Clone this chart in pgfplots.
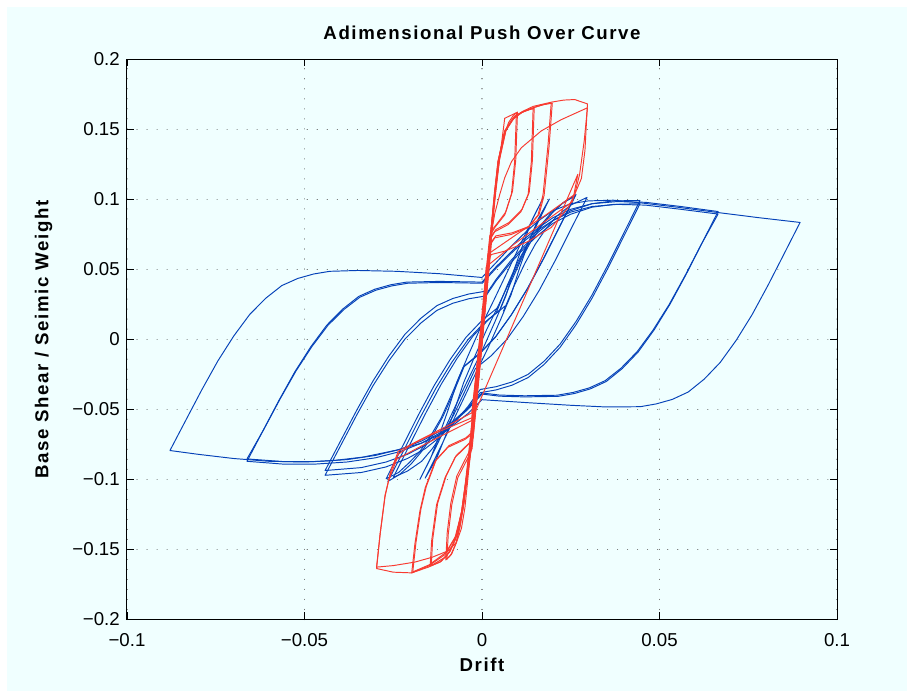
\documentclass[border=0pt]{standalone}
\usepackage{fontspec}
\setmainfont{Liberation Sans}
\newfontfamily\lblfont[LetterSpace=8.5]{Liberation Sans}
\usepackage{pgfplots}
\pgfplotsset{compat=1.18}
\definecolor{bg}{RGB}{240,255,255}
\definecolor{mblue}{RGB}{5,66,184}
\definecolor{mred}{RGB}{248,58,48}
\definecolor{gridc}{RGB}{100,100,100}

\begin{document}
\begin{tikzpicture}
\useasboundingbox (-95.25pt,-53.625pt) rectangle (590.25pt,464.625pt);
\fill[white] (-95.25pt,-53.625pt) rectangle (590.25pt,464.625pt);
\fill[bg] (-90pt,-53.625pt) rectangle (585pt,459.375pt);
\begin{axis}[
  at={(0pt,0pt)}, anchor=south west,
  scale only axis, width=532.5pt, height=420pt,
  xmin=-0.1, xmax=0.1, ymin=-0.2, ymax=0.2,
  xtick={-0.1,-0.05,0,0.05,0.1},
  xticklabels={−0.1,−0.05,0,0.05,0.1},
  ytick={-0.2,-0.15,-0.1,-0.05,0,0.05,0.1,0.15,0.2},
  yticklabels={−0.2,−0.15,−0.1,−0.05,0,0.05,0.1,0.15,0.2},
  tick align=inside, tick pos=both,
  major tick length=5.25pt,
  every tick/.style={black, line width=0.6pt},
  axis line style={black, line width=0.75pt},
  grid=major,
  grid style={gridc, line width=0.8pt, dash pattern=on 0.01pt off 7.5pt, line cap=round},
  ticklabel style={font=\fontsize{14}{16}\selectfont},
  xticklabel style={anchor=base, inner sep=0pt, yshift=-20pt},
  yticklabel style={anchor=east, inner sep=0pt, xshift=-5.25pt},
  title={Adimensional Push Over Curve},
  title style={font=\lblfont\bfseries\fontsize{14}{16}\selectfont, at={([yshift=9pt]axis description cs:0.5,1)}, anchor=base, yshift=0pt, inner sep=0pt},
  xlabel={Drift},
  xlabel style={font=\lblfont\bfseries\fontsize{14}{16}\selectfont, at={([yshift=-39.2pt]axis description cs:0.5,0)}, anchor=base, inner sep=0pt},
  ylabel={Base Shear / Seimic Weight},
  ylabel style={font=\lblfont\bfseries\fontsize{14}{16}\selectfont, at={([xshift=-59pt]axis description cs:0,0.5)}, anchor=base, inner sep=0pt},
  every axis plot/.append style={line width=0.72pt, line join=round},
]
% ---------------- blue: large cycles ----------------
\addplot[mblue] coordinates {
(0,0.0443) (0.004,0.055) (0.008,0.066) (0.012,0.076) (0.016,0.085) (0.020,0.092) (0.025,0.097) (0.030,0.099) (0.037,0.0995) (0.045,0.0975) (0.055,0.0945) (0.067,0.0905) (0.078,0.087) (0.0896,0.0836)
(0.0851,0.0612) (0.0806,0.0389) (0.0761,0.0178) (0.0716,-0.0006) (0.0671,-0.0164) (0.0626,-0.0283) (0.0581,-0.0375) (0.0536,-0.0428) (0.0491,-0.046) (0.0446,-0.048) (0.035,-0.0482) (0.025,-0.047) (0.012,-0.045) (0,-0.043)
(-0.004,-0.053) (-0.008,-0.061) (-0.012,-0.068) (-0.017,-0.074) (-0.024,-0.079) (-0.0335,-0.084) (-0.042,-0.0865) (-0.050,-0.0875) (-0.060,-0.087) (-0.070,-0.085) (-0.080,-0.082) (-0.0879,-0.0793)
(-0.0834,-0.0575) (-0.0789,-0.0358) (-0.0744,-0.0153) (-0.0699,0.0026) (-0.0654,0.018) (-0.0609,0.0295) (-0.0564,0.0385) (-0.0519,0.0436) (-0.0474,0.0468) (-0.0429,0.0487) (-0.035,0.0493) (-0.024,0.0487) (-0.012,0.047) (0,0.0443)
};
\addplot[mblue] coordinates {
(0,0.041) (0.004,0.052) (0.008,0.062) (0.012,0.072) (0.016,0.080) (0.020,0.087) (0.025,0.093) (0.031,0.097) (0.038,0.0985) (0.046,0.098) (0.056,0.095) (0.0665,0.0914)
(0.062,0.069) (0.0575,0.0465) (0.053,0.0254) (0.0485,0.0069) (0.044,-0.0089) (0.0395,-0.0208) (0.035,-0.03) (0.0305,-0.0353) (0.026,-0.0386) (0.0215,-0.0406) (0.012,-0.041) (0.005,-0.0405) (0,-0.039)
(-0.004,-0.050) (-0.008,-0.059) (-0.012,-0.067) (-0.017,-0.074) (-0.023,-0.080) (-0.030,-0.0845) (-0.038,-0.0875) (-0.047,-0.089) (-0.056,-0.089) (-0.0662,-0.087)
(-0.0617,-0.0652) (-0.0572,-0.0435) (-0.0527,-0.023) (-0.0482,-0.0051) (-0.0437,0.0103) (-0.0392,0.0218) (-0.0347,0.0308) (-0.0302,0.0359) (-0.0257,0.0391) (-0.0212,0.041) (-0.012,0.0415) (0,0.041)
};
\addplot[mblue] coordinates {
(0,0.040) (0.004,0.051) (0.008,0.061) (0.012,0.0705) (0.016,0.0785) (0.020,0.085) (0.025,0.091) (0.031,0.095) (0.038,0.0965) (0.046,0.096) (0.056,0.093) (0.0665,0.0896)
(0.0617,0.0676) (0.0572,0.0456) (0.0527,0.0249) (0.0482,0.0068) (0.0437,-0.0087) (0.0392,-0.0204) (0.0347,-0.0294) (0.0302,-0.0346) (0.0257,-0.0378) (0.0212,-0.0398) (0.012,-0.0402) (0.005,-0.0397) (0,-0.0382)
(-0.004,-0.049) (-0.008,-0.058) (-0.012,-0.0657) (-0.017,-0.0725) (-0.023,-0.0784) (-0.030,-0.0828) (-0.038,-0.0858) (-0.047,-0.0872) (-0.056,-0.0872) (-0.0662,-0.0853)
(-0.0614,-0.0639) (-0.0569,-0.0426) (-0.0524,-0.0225) (-0.0479,-0.005) (-0.0434,0.0101) (-0.0389,0.0214) (-0.0344,0.0302) (-0.0299,0.0352) (-0.0254,0.0383) (-0.0209,0.0402) (-0.012,0.0407) (0,0.0402)
};
\addplot[mblue] coordinates {
(0.0008,0.031) (0.004,0.043) (0.008,0.056) (0.012,0.067) (0.016,0.077) (0.020,0.085) (0.025,0.092) (0.031,0.097) (0.037,0.099) (0.0445,0.0993)
(0.040,0.0763) (0.0355,0.0534) (0.031,0.0318) (0.0265,0.0129) (0.022,-0.0033) (0.0175,-0.0155) (0.013,-0.0249) (0.0085,-0.0303) (0.004,-0.0337) (-0.0005,-0.0357)
(-0.004,-0.048) (-0.008,-0.060) (-0.012,-0.070) (-0.016,-0.078) (-0.021,-0.085) (-0.027,-0.091) (-0.034,-0.095) (-0.0442,-0.097)
(-0.0397,-0.0752) (-0.0352,-0.0535) (-0.0307,-0.033) (-0.0262,-0.0151) (-0.0217,0.0003) (-0.0172,0.0118) (-0.0127,0.0208) (-0.0082,0.0259) (-0.0037,0.0291) (0.0008,0.031)
};
\addplot[mblue] coordinates {
(0.0008,0.030) (0.004,0.042) (0.008,0.0545) (0.012,0.0655) (0.016,0.075) (0.020,0.083) (0.025,0.0895) (0.031,0.0945) (0.037,0.0965) (0.0445,0.097)
(0.040,0.074) (0.0355,0.0511) (0.031,0.0295) (0.0265,0.0106) (0.022,-0.0056) (0.0175,-0.0178) (0.013,-0.0272) (0.0085,-0.0326) (0.004,-0.036) (-0.0005,-0.038)
(-0.004,-0.049) (-0.008,-0.059) (-0.012,-0.068) (-0.016,-0.0755) (-0.021,-0.082) (-0.027,-0.0875) (-0.034,-0.0915) (-0.0442,-0.0936)
(-0.0397,-0.0718) (-0.0352,-0.0501) (-0.0307,-0.0296) (-0.0262,-0.0117) (-0.0217,0.0037) (-0.0172,0.0152) (-0.0127,0.0242) (-0.0082,0.0293) (-0.0037,0.0325) (0.0008,0.0344)
};
% ---------------- blue: medium cycles ----------------
\addplot[mblue] coordinates {
(0.005,0.021) (0.008,0.040) (0.011,0.057) (0.014,0.071) (0.017,0.082) (0.020,0.091) (0.023,0.098) (0.0265,0.1036)
(0.022,0.0812) (0.0175,0.0584) (0.013,0.0371) (0.0085,0.0185) (0.004,0.0025) (-0.0005,-0.0095) (-0.005,-0.019)
(-0.008,-0.038) (-0.011,-0.055) (-0.014,-0.069) (-0.017,-0.080) (-0.020,-0.089) (-0.023,-0.096) (-0.0265,-0.1014)
(-0.022,-0.079) (-0.0175,-0.0562) (-0.013,-0.0349) (-0.0085,-0.0163) (-0.004,-0.0003) (0.0005,0.0117) (0.005,0.021)
};
\addplot[mblue] coordinates {
(0.006,0.020) (0.009,0.038) (0.012,0.054) (0.015,0.068) (0.018,0.079) (0.021,0.088) (0.025,0.096) (0.0296,0.1015)
(0.0251,0.0791) (0.0206,0.0563) (0.0161,0.035) (0.0116,0.0164) (0.0071,0.0004) (0.0026,-0.0116) (-0.0019,-0.0209)
(-0.005,-0.038) (-0.008,-0.054) (-0.011,-0.067) (-0.014,-0.078) (-0.017,-0.087) (-0.021,-0.094) (-0.025,-0.0985)
(-0.0205,-0.0759) (-0.016,-0.0533) (-0.0115,-0.032) (-0.007,-0.0134) (-0.0025,0.0026) (0.002,0.0146) (0.0065,0.0239)
};
\addplot[mblue] coordinates {
(0.004,0.019) (0.007,0.038) (0.010,0.055) (0.013,0.069) (0.016,0.080) (0.019,0.089) (0.0225,0.097) (0.0262,0.1025)
(0.0217,0.0799) (0.0172,0.0573) (0.0127,0.036) (0.0082,0.0174) (0.0037,0.0014) (-0.0008,-0.0106) (-0.0053,-0.0199)
(-0.0085,-0.039) (-0.0115,-0.056) (-0.0145,-0.069) (-0.0175,-0.080) (-0.0205,-0.088) (-0.0235,-0.095) (-0.027,-0.0995)
(-0.0225,-0.0769) (-0.018,-0.0543) (-0.0135,-0.033) (-0.009,-0.0144) (-0.0045,0.0016) (0.0,0.0136) (0.0045,0.0229)
};
% ---------------- blue: small cycles ----------------
\addplot[mblue] coordinates {
(0.0172,0.101) (0.0127,0.078) (0.0082,0.054) (0.0037,0.030) (-0.0005,0.008) (-0.004,-0.012) (-0.007,-0.030) (-0.0095,-0.050) (-0.012,-0.068) (-0.0145,-0.085) (-0.0175,-0.100)
(-0.013,-0.077) (-0.0085,-0.053) (-0.004,-0.029) (0.0002,-0.007) (0.0037,0.013) (0.0067,0.031) (0.0092,0.051) (0.0117,0.069) (0.0142,0.086) (0.0172,0.101)
};
\addplot[mblue] coordinates {
(0.019,0.1005) (0.0145,0.077) (0.010,0.053) (0.0055,0.029) (0.0013,0.007) (-0.0022,-0.013) (-0.0052,-0.031) (-0.0078,-0.051) (-0.0103,-0.069) (-0.0128,-0.085) (-0.016,-0.099)
(-0.0115,-0.076) (-0.007,-0.052) (-0.0025,-0.028) (0.0017,-0.006) (0.0052,0.014) (0.0082,0.032) (0.0107,0.052) (0.0132,0.070) (0.0158,0.086) (0.019,0.1005)
};
% ---------------- red cycles ----------------
\addplot[mred] coordinates {
(-0.0028,-0.060) (-0.0015,-0.028) (0,0.010) (0.0015,0.050) (0.0026,0.080) (0.0045,0.120) (0.0064,0.158) (0.0097,0.162)
(0.0092,0.127) (0.0083,0.104) (0.0064,0.089) (0.0036,0.080) (0.0022,0.074)
(0.0010,0.045) (-0.0005,0.005) (-0.0020,-0.035) (-0.0032,-0.070) (-0.0042,-0.095) (-0.0052,-0.118) (-0.0062,-0.133) (-0.0072,-0.145) (-0.0085,-0.153) (-0.0099,-0.157)
(-0.0095,-0.139) (-0.0085,-0.118) (-0.0068,-0.0986) (-0.0039,-0.0843) (-0.0028,-0.078)
(-0.0015,-0.045) (0,-0.005) (0.0015,0.040)
};
\addplot[mred] coordinates {
(0.0015,0.040) (0.0026,0.075) (0.0038,0.108) (0.0050,0.132) (0.0062,0.146) (0.0075,0.155) (0.0088,0.160) (0.0100,0.1625)
(0.0095,0.128) (0.0086,0.106) (0.0067,0.091) (0.0040,0.082) (0.0024,0.077)
(0.0012,0.045) (-0.0003,0.005) (-0.0018,-0.035) (-0.0030,-0.068) (-0.0040,-0.093) (-0.0050,-0.116) (-0.0062,-0.134) (-0.0074,-0.146) (-0.0088,-0.154) (-0.0102,-0.1575)
(-0.0098,-0.138) (-0.0088,-0.117) (-0.0071,-0.0975) (-0.0042,-0.083) (-0.0030,-0.077) (-0.0015,-0.040) (0,-0.002)
};
\addplot[mred] coordinates {
(-0.0028,-0.072) (-0.0015,-0.035) (0,0.005) (0.0015,0.045) (0.0026,0.0798) (0.0036,0.105) (0.0045,0.127) (0.0064,0.149) (0.0092,0.1595) (0.0118,0.163) (0.0144,0.165)
(0.0139,0.127) (0.013,0.1036) (0.011,0.0914) (0.0073,0.082) (0.0036,0.077) (0.0024,0.072)
(0.0012,0.040) (-0.0003,0.0) (-0.0018,-0.040) (-0.0032,-0.075) (-0.0045,-0.100) (-0.0057,-0.122) (-0.0072,-0.140) (-0.0092,-0.152) (-0.0118,-0.159) (-0.0146,-0.162)
(-0.0142,-0.144) (-0.0128,-0.118) (-0.0104,-0.0986) (-0.0076,-0.0843) (-0.0039,-0.075) (-0.0028,-0.072)
};
\addplot[mred] coordinates {
(-0.0025,-0.070) (-0.0012,-0.033) (0.0003,0.007) (0.0018,0.047) (0.0029,0.081) (0.0039,0.106) (0.0049,0.128) (0.0068,0.150) (0.0095,0.1598) (0.0121,0.1633) (0.0147,0.1652)
(0.0142,0.128) (0.0133,0.105) (0.0113,0.093) (0.0076,0.0835) (0.0039,0.0785) (0.0027,0.074)
(0.0015,0.042) (0,0.002) (-0.0015,-0.038) (-0.0029,-0.073) (-0.0042,-0.099) (-0.0054,-0.121) (-0.0069,-0.139) (-0.0089,-0.151) (-0.0115,-0.1585) (-0.0143,-0.1615)
(-0.0139,-0.143) (-0.0125,-0.117) (-0.0101,-0.0975) (-0.0073,-0.083) (-0.0036,-0.074) (-0.0025,-0.070)
};
\addplot[mred] coordinates {
(-0.003,-0.068) (-0.0016,-0.032) (0,0.008) (0.0015,0.048) (0.0026,0.080) (0.0035,0.105) (0.0045,0.127) (0.0064,0.148) (0.0085,0.157) (0.011,0.162) (0.0144,0.1655) (0.017,0.1675) (0.0195,0.169)
(0.0186,0.139) (0.0172,0.1036) (0.0158,0.089) (0.013,0.080) (0.0082,0.075) (0.0036,0.0726) (0.0024,0.068)
(0.0012,0.035) (-0.0003,-0.005) (-0.0018,-0.045) (-0.0033,-0.080) (-0.0045,-0.100) (-0.0057,-0.1226) (-0.0076,-0.1416) (-0.0104,-0.1536) (-0.0152,-0.162) (-0.0198,-0.1667)
(-0.0189,-0.146) (-0.0175,-0.1226) (-0.016,-0.106) (-0.0132,-0.087) (-0.0096,-0.077) (-0.0048,-0.0714) (-0.003,-0.068)
};
\addplot[mred] coordinates {
(-0.0027,-0.066) (-0.0013,-0.030) (0.0003,0.010) (0.0018,0.050) (0.0029,0.082) (0.0038,0.107) (0.0048,0.128) (0.0067,0.149) (0.0088,0.1575) (0.0113,0.1622) (0.0147,0.1658) (0.0173,0.1678) (0.0198,0.1688)
(0.0189,0.138) (0.0175,0.103) (0.0161,0.0895) (0.0133,0.0808) (0.0085,0.0762) (0.0039,0.074) (0.0027,0.070)
(0.0015,0.037) (0,-0.003) (-0.0015,-0.043) (-0.0030,-0.078) (-0.0042,-0.099) (-0.0054,-0.121) (-0.0073,-0.140) (-0.0101,-0.152) (-0.0149,-0.161) (-0.0195,-0.166)
(-0.0186,-0.145) (-0.0172,-0.121) (-0.0157,-0.105) (-0.0129,-0.086) (-0.0093,-0.0758) (-0.0045,-0.0702) (-0.0027,-0.066)
};
\addplot[mred] coordinates {
(-0.0029,-0.056) (-0.001,-0.010) (0.0008,0.030) (0.0017,0.056) (0.0026,0.080) (0.0036,0.106) (0.0046,0.128) (0.0064,0.149) (0.0090,0.159) (0.0115,0.163) (0.0144,0.1665) (0.0195,0.1695) (0.023,0.171) (0.0261,0.1714) (0.0297,0.1683)
(0.0290,0.135) (0.0280,0.115) (0.0261,0.1036) (0.0242,0.094) (0.0195,0.080) (0.013,0.070) (0.0064,0.0631) (0.0026,0.0607) (0.0017,0.056)
(0.0005,0.025) (-0.0010,-0.015) (-0.0025,-0.050) (-0.0037,-0.080) (-0.0047,-0.103) (-0.0058,-0.124) (-0.0075,-0.143) (-0.0100,-0.155) (-0.0150,-0.1625) (-0.0198,-0.1667) (-0.025,-0.1662) (-0.0297,-0.1636)
(-0.0287,-0.139) (-0.0273,-0.111) (-0.0254,-0.0917) (-0.0236,-0.082) (-0.0198,-0.075) (-0.0142,-0.068) (-0.0085,-0.062) (-0.0029,-0.056)
};
\addplot[mred] coordinates {
(-0.0029,-0.053) (-0.001,-0.008) (0.0008,0.032) (0.0017,0.061) (0.010,0.0755) (0.018,0.089) (0.0261,0.1036) (0.0275,0.118) (0.0288,0.142) (0.0297,0.1655)
(0.0223,0.157) (0.0167,0.149) (0.0111,0.137) (0.0083,0.127) (0.0064,0.1155) (0.005,0.1036) (0.0036,0.090) (0.0026,0.075)
(0.0010,0.035) (-0.0005,-0.005) (-0.0020,-0.035) (-0.0029,-0.0524) (-0.010,-0.062) (-0.017,-0.071) (-0.0236,-0.0798) (-0.0258,-0.095) (-0.0273,-0.112) (-0.0287,-0.139) (-0.0297,-0.1626)
(-0.0250,-0.1615) (-0.0189,-0.159) (-0.0140,-0.1555) (-0.0096,-0.151) (-0.0072,-0.145) (-0.0058,-0.135) (-0.0048,-0.120) (-0.0040,-0.100) (-0.0032,-0.080) (-0.0020,-0.045)
};
\addplot[mred] coordinates {
(-0.0020,-0.045) (-0.0005,-0.005) (0.0012,0.052) (0.009,0.068) (0.017,0.083) (0.0255,0.0985) (0.0270,0.118)
(-0.0030,-0.058) (-0.010,-0.067) (-0.017,-0.076) (-0.0240,-0.0855) (-0.0262,-0.100)
};
\end{axis}
\end{tikzpicture}
\end{document}
